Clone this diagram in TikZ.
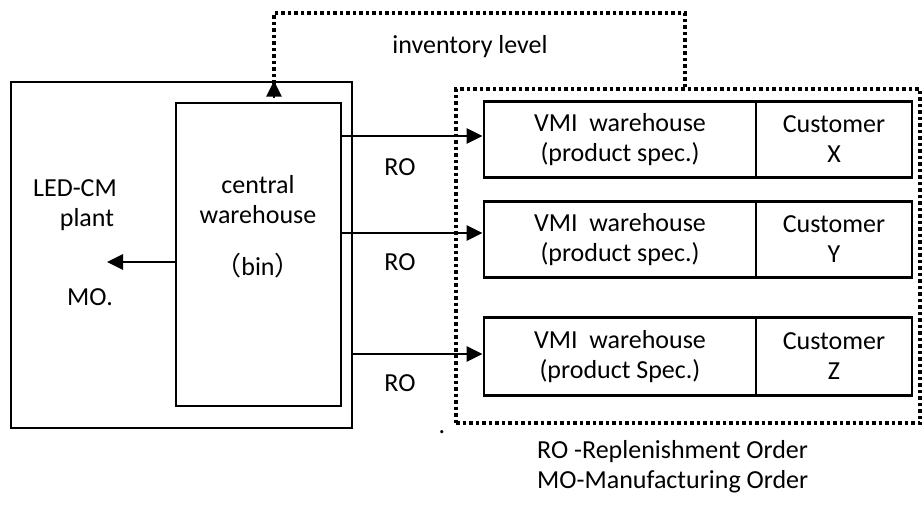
\documentclass[tikz,border=0pt]{standalone}
\usepackage{fontspec}
\setmainfont{Carlito}
\newfontfamily\cjk{Noto Sans CJK SC}
\usetikzlibrary{arrows.meta}
\begin{document}
\begin{tikzpicture}[x=1pt,y=-1pt, font=\fontsize{26}{30}\selectfont,
 box/.style={draw,line width=2.8pt, inner sep=0pt, align=center},
 arr/.style={line width=2.8pt,-{Triangle[length=16pt,width=15pt]}},
 dotline/.style={line width=3.5pt, dash pattern=on 3.5pt off 3pt},
 lbl/.style={align=center, inner sep=0pt}]
\useasboundingbox (0,0) rectangle (924,507);
% main boxes
\node[box, minimum width=341pt, minimum height=346pt] (plant) at (181.5,255) {};
\node[box, minimum width=165pt, minimum height=303pt] (cw) at (258.5,254.5) {};
\node[draw, dotline, minimum width=464pt, minimum height=334pt] (reg) at (688,256) {};
% VMI boxes
\node[box, minimum width=272pt, minimum height=76pt] (vmi1) at (620,139.5) {VMI\ \ warehouse\\(product spec.)};
\node[box, minimum width=156pt, minimum height=76pt] (c1) at (834,139.5) {Customer\\X};
\node[box, minimum width=272pt, minimum height=76pt] (vmi2) at (620,239.5) {VMI\ \ warehouse\\(product spec.)};
\node[box, minimum width=156pt, minimum height=76pt] (c2) at (834,239.5) {Customer\\Y};
\node[box, minimum width=272pt, minimum height=78pt] (vmi3) at (620,356.5) {VMI\ \ warehouse\\(product Spec.)};
\node[box, minimum width=156pt, minimum height=78pt] (c3) at (834,356.5) {Customer\\Z};
% arrow levels
\coordinate (a1) at (0,136);
\coordinate (a2) at (0,233);
\coordinate (a3) at (0,354);
\coordinate (m1) at (107,262);
\draw[arr] (cw.east |- a1) -- (vmi1.west |- a1);
\draw[arr] (cw.east |- a2) -- (vmi2.west |- a2);
\draw[arr] (plant.east |- a3) -- (vmi3.west |- a3);
\draw[arr] (cw.west |- m1) -- (m1);
% feedback
\coordinate (f1) at (685,13);
\coordinate (f2) at (274,13);
\draw[dotline] (reg.north -| f1) -- (f1) -- (f2) -- ([yshift=-14pt]plant.north -| f2);
\draw[arr] ([yshift=-17pt]plant.north -| f2) -- (plant.north -| f2);
% labels
\node[lbl] (inv) at (470,47) {inventory level};
\node[lbl] (ro1) at (400,167) {RO};
\node[lbl] (ro2) at (400,262) {RO};
\node[lbl] (ro3) at (400,383) {RO};
\node[lbl] (led) at (75,205) {LED-CM\\\hspace*{24pt}plant};
\node[lbl] (cwt) at (258,199.5) {central\\warehouse};
\node[lbl] (bin) at (258,266) {{\cjk （}bin{\cjk ）}};
\node[lbl] (mo) at (90,297) {MO.};
\node[lbl] (dot) at (442,432) {.};
\node[lbl, anchor=west, align=left] (leg) at (537,466.5) {RO -Replenishment Order\\MO-Manufacturing Order};
\end{tikzpicture}
\end{document}
